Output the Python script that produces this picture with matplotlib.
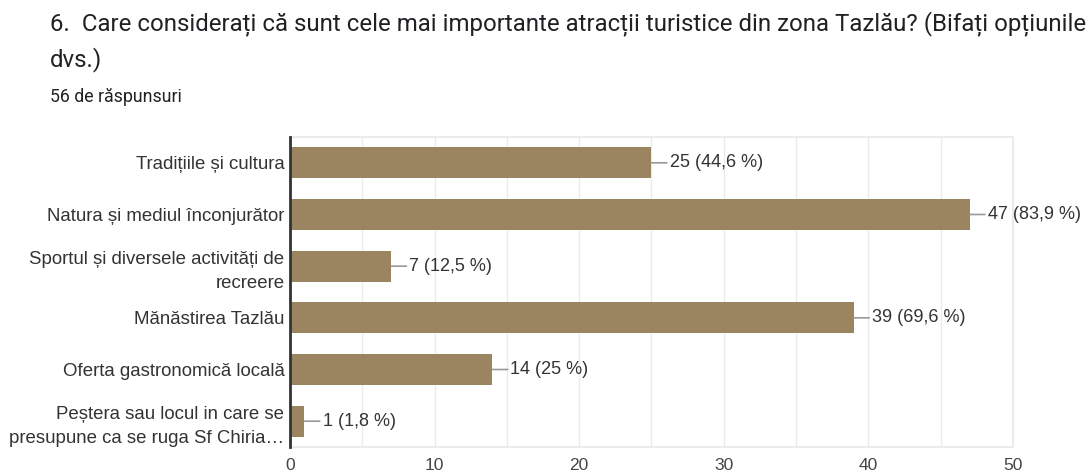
import matplotlib

matplotlib.use("Agg")
import matplotlib.pyplot as plt
from matplotlib.ticker import MultipleLocator

# Survey question 6: most important tourist attractions around Tazlău
categories = [
    "Tradițiile și cultura",
    "Natura și mediul înconjurător",
    "Sportul și diversele activități de\nrecreere",
    "Mănăstirea Tazlău",
    "Oferta gastronomică locală",
    "Peștera sau locul in care se\npresupune ca se ruga Sf Chiria…",
]
counts = [25, 47, 7, 39, 14, 1]
percents = ["44,6", "83,9", "12,5", "69,6", "25", "1,8"]
x_ticks = [0, 10, 20, 30, 40, 50]

title = ("6.  Care considerați că sunt cele mai importante atracții turistice "
         "din zona Tazlău? (Bifați opțiunile\ndvs.)")
subtitle = "56 de răspunsuri"

BAR_COLOR = "#9b8560"
TEXT_COLOR = "#333333"
GRID_COLOR = "#ebebeb"

fig = plt.figure(figsize=(10.91, 4.76), dpi=100)
ax = fig.add_axes([0.2658, 0.0609, 0.6627, 0.6513])

y = list(range(len(categories)))
ax.barh(y, counts, height=0.6, color=BAR_COLOR, zorder=2)
ax.set_ylim(len(categories) - 0.5, -0.5)
ax.set_xlim(0, 50)

# value labels with a short gray leader line
for yi, c, p in zip(y, counts, percents):
    ax.annotate(
        f"{c} ({p} %)",
        xy=(c, yi), xytext=(13, 0), textcoords="offset points",
        ha="left", va="center", fontsize=13, family="Liberation Sans",
        color=TEXT_COLOR,
        arrowprops=dict(arrowstyle="-", color="#999999", lw=1.2,
                        shrinkA=0, shrinkB=0),
    )

ax.xaxis.set_major_locator(MultipleLocator(10))
ax.xaxis.set_minor_locator(MultipleLocator(5))
ax.set_xticks(x_ticks)
ax.grid(True, axis="x", which="both", color=GRID_COLOR, lw=1, zorder=0)
ax.tick_params(axis="x", which="both", length=0, pad=8, labelsize=12.5,
               labelcolor="#444444")
ax.tick_params(axis="y", length=0, pad=4, labelsize=13.4, labelcolor=TEXT_COLOR)
ax.set_yticks(y)
ax.set_yticklabels(categories, family="Liberation Sans", linespacing=1.5)
for lbl in ax.get_xticklabels():
    lbl.set_family("Liberation Sans")

for side in ("top", "right", "bottom"):
    ax.spines[side].set_color(GRID_COLOR)
    ax.spines[side].set_linewidth(1.5)
ax.spines["left"].set_color("#333333")
ax.spines["left"].set_linewidth(2)
ax.spines["left"].set_zorder(3)

fig.text(50 / 1091, 1 - 12 / 476, title, ha="left", va="top", fontsize=17.3,
         family="Roboto", color="#202124", linespacing=1.5)
fig.text(50 / 1091, 1 - 97 / 476, subtitle, ha="left", va="center",
         fontsize=12.8, family="Roboto", color="#202124")

fig.savefig("out.png", dpi=100)
